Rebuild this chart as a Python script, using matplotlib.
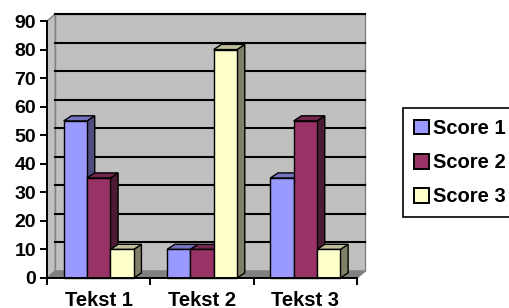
import matplotlib
matplotlib.use('Agg')
import matplotlib.pyplot as plt
from matplotlib.patches import Polygon, Patch

plt.rcParams['font.family'] = ['Liberation Sans', 'DejaVu Sans']
plt.rcParams['font.weight'] = 'bold'

categories = ['Tekst 1', 'Tekst 2', 'Tekst 3']
series_names = ['Score 1', 'Score 2', 'Score 3']
score1 = [55, 10, 35]
score2 = [35, 10, 55]
score3 = [10, 80, 10]
series = [score1, score2, score3]

front_colors = ['#9999FF', '#993366', '#FFFFCC']
top_colors = ['#7373BF', '#73264D', '#BFBF99']
side_colors = ['#4D4D80', '#4D1A33', '#808066']

fig = plt.figure(figsize=(5.1, 3.08), dpi=100)
ax = fig.add_axes([47 / 510, 30 / 308, 310 / 510, 257 / 308])
ax.set_xlim(0, 3)
ax.set_ylim(0, 90)
ax.patch.set_visible(False)

# wall / floor depth (data units), bar depth
DX, DY = 0.08, 2.45
BDX, BDY = 0.075, 1.8


def poly(pts, fc, ec, lw, z):
    ax.add_patch(Polygon(pts, closed=True, facecolor=fc, edgecolor=ec,
                         linewidth=lw, clip_on=False, zorder=z))


# back wall, side wall, floor
poly([(DX, DY), (3 + DX, DY), (3 + DX, 90 + DY), (DX, 90 + DY)], '#C0C0C0', '#808080', 1.0, 0)
poly([(0, 0), (DX, DY), (DX, 90 + DY), (0, 90)], '#C0C0C0', '#808080', 1.0, 0)
poly([(0, 0), (3, 0), (3 + DX, DY), (DX, DY)], '#808080', '#808080', 1.0, 0.5)

# gridlines on back wall
for v in range(10, 91, 10):
    ax.plot([DX, 3 + DX], [v + DY, v + DY], color='black', lw=1.5, zorder=1, clip_on=False)

# 3D bars
w = 0.226
z = 2
for ci in range(len(categories)):
    c = ci + 0.5
    for si, vals in enumerate(series):
        x0 = c - 1.5 * w + si * w
        x1 = x0 + w
        h = vals[ci]
        poly([(x1, 0), (x1 + BDX, BDY), (x1 + BDX, h + BDY), (x1, h)], side_colors[si], 'black', 1.0, z)
        poly([(x0, h), (x1, h), (x1 + BDX, h + BDY), (x0 + BDX, h + BDY)], top_colors[si], 'black', 1.0, z)
        poly([(x0, 0), (x1, 0), (x1, h), (x0, h)], front_colors[si], 'black', 1.0, z)
        z += 0.1

for s in ['top', 'right']:
    ax.spines[s].set_visible(False)
for s in ['left', 'bottom']:
    ax.spines[s].set_linewidth(1.4)
    ax.spines[s].set_zorder(10)

ax.set_yticks(range(0, 91, 10))
ax.tick_params(axis='y', length=5, width=1.4, labelsize=14, pad=3)
ax.set_xticks([0, 1, 2, 3])
ax.set_xticklabels([])
ax.set_xticks([0.5, 1.5, 2.5], minor=True)
ax.set_xticklabels(categories, minor=True)
ax.tick_params(axis='x', which='major', length=5, width=1.4)
ax.tick_params(axis='x', which='minor', length=0, labelsize=14.5, pad=9)

handles = [Patch(facecolor=front_colors[i], edgecolor='black', linewidth=1.4) for i in range(3)]
leg = fig.legend(handles, series_names, loc='upper left', bbox_to_anchor=(403 / 510, 1 - 108 / 308),
                 bbox_transform=fig.transFigure, fontsize=14.5, frameon=True, fancybox=False,
                 borderaxespad=0, borderpad=0.55, handlelength=0.75, handleheight=0.75,
                 handletextpad=0.2, labelspacing=0.75)
leg.get_frame().set_edgecolor('black')
leg.get_frame().set_linewidth(1.2)
leg.get_frame().set_alpha(1)

fig.savefig('out.png', dpi=100)
